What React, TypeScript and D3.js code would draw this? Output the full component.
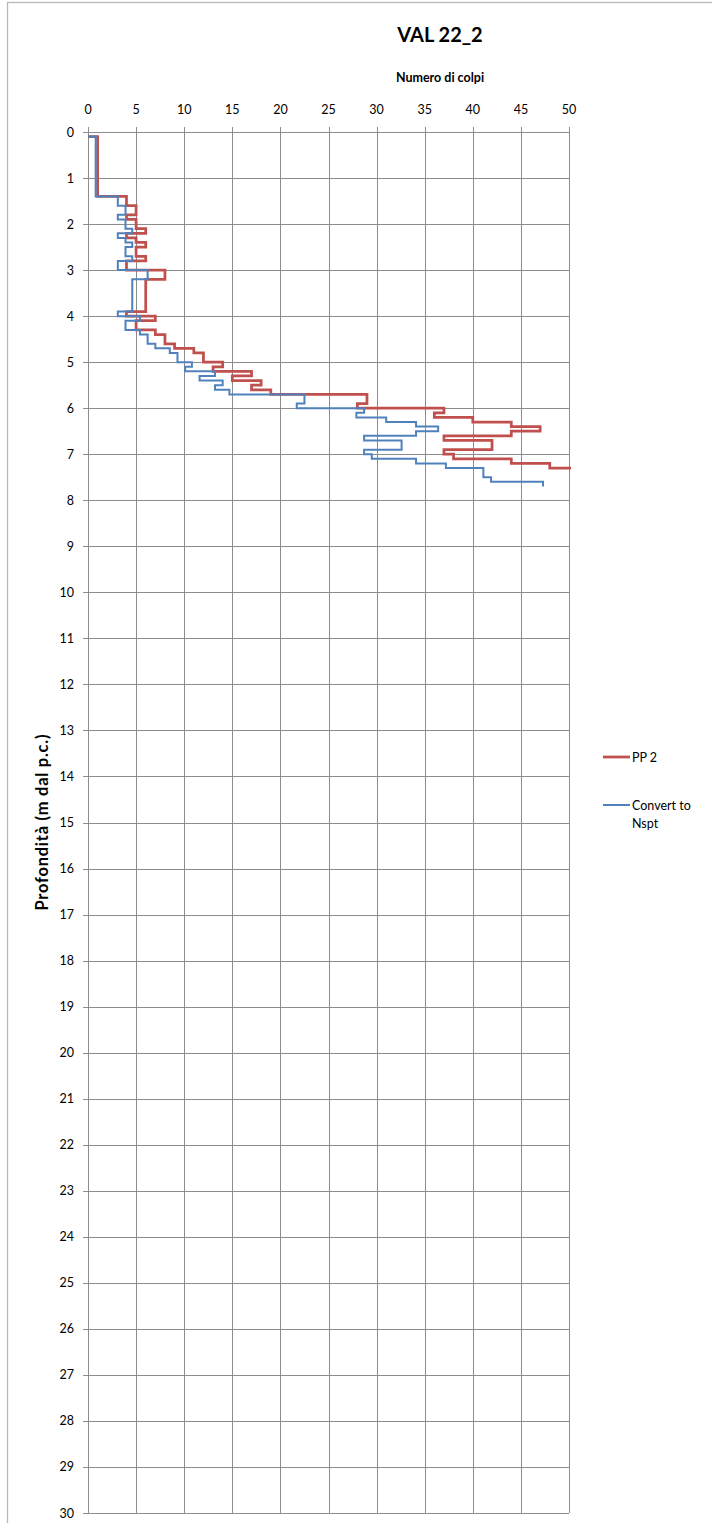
import React, { useRef, useEffect } from 'react';
import * as d3 from 'd3';

// depth (m) where each reading starts; last entry is the bottom of the last reading
const ppDepths = [0.1, 1.4, 1.6, 1.8, 1.9, 2.1, 2.2, 2.3, 2.4, 2.5, 2.7, 2.8, 3.0, 3.2, 3.9, 4.0, 4.1, 4.3, 4.4, 4.6, 4.7, 4.8, 5.0, 5.1, 5.2, 5.3, 5.4, 5.5, 5.6, 5.7, 5.9, 6.0, 6.1, 6.2, 6.3, 6.4, 6.5, 6.6, 6.7, 6.8, 6.9, 7.0, 7.1, 7.2, 7.3, 7.4, 7.5, 7.6, 7.7];
// PP 2 blow counts
const ppBlows = [1, 4, 5, 4, 5, 6, 4, 5, 6, 5, 6, 4, 8, 6, 4, 7, 5, 7, 8, 9, 11, 12, 14, 13, 17, 15, 18, 17, 19, 29, 28, 37, 36, 40, 44, 47, 44, 37, 42, 42, 37, 38, 44, 48, 53, 54, 54, 61];
// Convert to Nspt
const nsptBlows = [0.8, 3.1, 3.9, 3.1, 3.9, 4.6, 3.1, 3.9, 4.6, 3.9, 4.6, 3.1, 6.2, 4.6, 3.1, 5.4, 3.9, 5.4, 6.2, 7.0, 8.5, 9.3, 10.8, 10.1, 13.2, 11.6, 14.0, 13.2, 14.7, 22.5, 21.7, 28.7, 27.9, 31.0, 34.1, 36.4, 34.1, 28.7, 32.6, 32.6, 28.7, 29.5, 34.1, 37.2, 41.1, 41.1, 41.9, 47.3];

const xTicks = [0, 5, 10, 15, 20, 25, 30, 35, 40, 45, 50];
const yTicks = d3.range(0, 31);

const seriesNames = ['PP 2', 'Convert to Nspt'];
const seriesColors = ['#C0504D', '#4F81BD'];

const font = 'Lato, "Open Sans", sans-serif';

const App: React.FC = () => {
    const svgRef = useRef<SVGSVGElement>(null);

    useEffect(() => {
        const width = 712;
        const height = 1523;
        const margin = { top: 132, left: 88, right: 143, bottom: 10 };

        const x = d3.scaleLinear().domain([0, 50]).range([margin.left, width - margin.right]);
        const y = d3.scaleLinear().domain([0, 30]).range([margin.top, height - margin.bottom]);

        const svg = d3.select(svgRef.current);
        svg.selectAll('*').remove();
        svg.attr('width', width).attr('height', height);

        // chart area border
        svg.append('rect')
            .attr('x', 7.5).attr('y', 2.5)
            .attr('width', 1000).attr('height', 2000)
            .attr('fill', '#fff')
            .attr('stroke', '#b9b9b9')
            .attr('stroke-width', 1.3);

        const gridColor = '#8c8c8c';

        // vertical grid
        svg.append('g').selectAll('line').data(xTicks).join('line')
            .attr('x1', d => Math.round(x(d)) + 0.5).attr('x2', d => Math.round(x(d)) + 0.5)
            .attr('y1', y(0) - 5).attr('y2', y(30))
            .attr('stroke', gridColor).attr('stroke-width', 1);

        // horizontal grid
        svg.append('g').selectAll('line').data(yTicks).join('line')
            .attr('x1', x(0) - 5).attr('x2', x(50))
            .attr('y1', d => Math.round(y(d)) + 0.5).attr('y2', d => Math.round(y(d)) + 0.5)
            .attr('stroke', gridColor).attr('stroke-width', 1);

        // tick labels
        svg.append('g').selectAll('text').data(xTicks).join('text')
            .attr('x', d => x(d)).attr('y', y(0) - 18)
            .attr('text-anchor', 'middle')
            .style('font-family', font).style('font-size', '12.5px')
            .attr('fill', '#000')
            .text(d => d);

        svg.append('g').selectAll('text').data(yTicks).join('text')
            .attr('x', x(0) - 14).attr('y', d => y(d) + 4.5)
            .attr('text-anchor', 'end')
            .style('font-family', font).style('font-size', '12.5px')
            .attr('fill', '#000')
            .text(d => d);

        // titles
        svg.append('text')
            .attr('x', 440).attr('y', 42)
            .attr('text-anchor', 'middle')
            .style('font-family', font).style('font-size', '20px').style('font-weight', 'bold')
            .text('VAL 22_2');

        svg.append('text')
            .attr('x', 440).attr('y', 82)
            .attr('text-anchor', 'middle')
            .style('font-family', font).style('font-size', '12.5px').style('font-weight', 'bold')
            .text('Numero di colpi');

        const yMid = (y(0) + y(30)) / 2;
        svg.append('text')
            .attr('transform', `translate(48,${yMid}) rotate(-90)`)
            .attr('text-anchor', 'middle')
            .attr('textLength', 176)
            .attr('lengthAdjust', 'spacing')
            .style('font-family', font).style('font-size', '16.5px').style('font-weight', 'bold')
            .text('Profondità (m dal p.c.)');

        // clip to plot area
        svg.append('clipPath').attr('id', 'plot-clip')
            .append('rect')
            .attr('x', x(0) - 2).attr('y', y(0) - 2)
            .attr('width', x(50) - x(0) + 4).attr('height', y(30) - y(0) + 4);

        const stepPoints = (blows: number[]) => {
            const pts: [number, number][] = [[0, ppDepths[0]]];
            blows.forEach((b, i) => {
                pts.push([b, ppDepths[i]]);
                pts.push([b, ppDepths[i + 1]]);
            });
            return pts;
        };

        const line = d3.line<[number, number]>()
            .x(d => x(d[0]))
            .y(d => y(d[1]));

        const plot = svg.append('g').attr('clip-path', 'url(#plot-clip)');
        [ppBlows, nsptBlows].forEach((blows, i) => {
            plot.append('path')
                .datum(stepPoints(blows))
                .attr('fill', 'none')
                .attr('stroke', seriesColors[i])
                .attr('stroke-width', i === 0 ? 2.75 : 2)
                .attr('stroke-linejoin', 'miter')
                .attr('d', line);
        });

        // legend
        const legendY = [757, 805];
        seriesNames.forEach((name, i) => {
            svg.append('line')
                .attr('x1', 603).attr('x2', 630)
                .attr('y1', legendY[i]).attr('y2', legendY[i])
                .attr('stroke', seriesColors[i])
                .attr('stroke-width', i === 0 ? 2.75 : 2);
            const words = name === 'Convert to Nspt' ? ['Convert to', 'Nspt'] : [name];
            words.forEach((w, j) => {
                svg.append('text')
                    .attr('x', 632).attr('y', legendY[i] + 4.5 + j * 18)
                    .style('font-family', font).style('font-size', '12.5px')
                    .text(w);
            });
        });
    }, []);

    return (
        <div style={{ position: 'absolute', left: 0, top: 0 }}>
            <svg ref={svgRef} style={{ display: 'block' }} />
        </div>
    );
};

export default App;
